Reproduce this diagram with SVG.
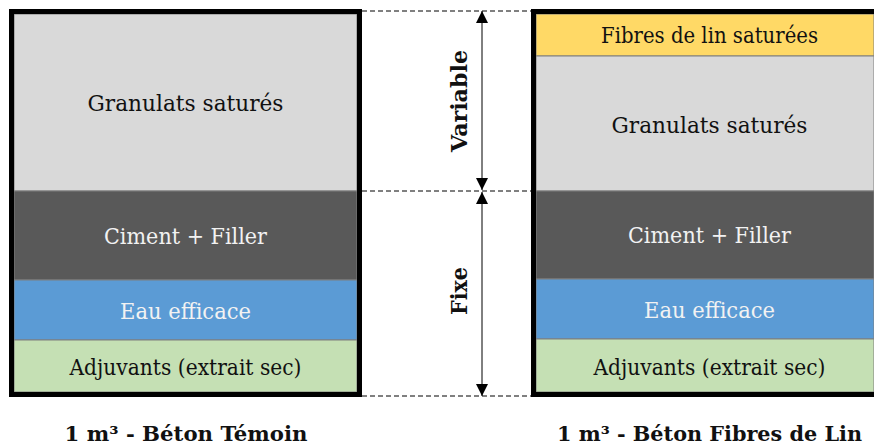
<svg xmlns="http://www.w3.org/2000/svg" width="874" height="448" viewBox="0 0 874 448">
<style>
.lay{stroke:#7f7f7f;stroke-width:1}
.t{font-family:"DejaVu Serif","Liberation Serif",serif;font-size:23px;text-anchor:middle}
.dk{fill:#111}
.wt{fill:#f2f2f2}
.ttl{font-family:"DejaVu Serif","Liberation Serif",serif;font-size:20.8px;font-weight:bold;text-anchor:middle;fill:#111}
.frame{fill:none;stroke:#000;stroke-width:5}
.dash{stroke:#000;stroke-width:1;stroke-dasharray:5,3;fill:none}
.arr{stroke:#000;stroke-width:1;fill:none;marker-start:url(#ah);marker-end:url(#ah)}
.lbl{font-family:"DejaVu Serif","Liberation Serif",serif;font-size:23px;font-weight:bold;text-anchor:middle;fill:#111}
</style>
<defs>
<marker id="ah" markerUnits="userSpaceOnUse" markerWidth="12" markerHeight="12" refX="12" refY="6" orient="auto-start-reverse">
<path d="M0,0 L12,6 L0,12 z" fill="#000"/>
</marker>
</defs>
<rect width="874" height="448" fill="#fff"/>

<g id="temoin">
<rect class="lay" x="14" y="14" width="343" height="177" fill="#d9d9d9"/>
<rect class="lay" x="14" y="191" width="343" height="89" fill="#595959"/>
<rect class="lay" x="14" y="280" width="343" height="60" fill="#5b9bd5"/>
<rect class="lay" x="14" y="340" width="343" height="52" fill="#c5e0b4"/>
<rect class="frame" x="11.5" y="11.5" width="348" height="383"/>
<text class="t dk" x="185.5" y="111" textLength="196" lengthAdjust="spacingAndGlyphs">Granulats saturés</text>
<text class="t wt" x="185.5" y="244" textLength="163" lengthAdjust="spacingAndGlyphs">Ciment + Filler</text>
<text class="t wt" x="185.5" y="319" textLength="131" lengthAdjust="spacingAndGlyphs">Eau efficace</text>
<text class="t dk" x="185.5" y="375" textLength="232" lengthAdjust="spacingAndGlyphs">Adjuvants (extrait sec)</text>
<text class="ttl" x="186" y="441" textLength="243" lengthAdjust="spacingAndGlyphs">1 m³ - Béton Témoin</text>
</g>

<g id="fibres">
<rect class="lay" x="536" y="14" width="338" height="42" fill="#ffd966"/>
<rect class="lay" x="536" y="56" width="338" height="135" fill="#d9d9d9"/>
<rect class="lay" x="536" y="191" width="338" height="88" fill="#595959"/>
<rect class="lay" x="536" y="279" width="338" height="60" fill="#5b9bd5"/>
<rect class="lay" x="536" y="339" width="338" height="53" fill="#c5e0b4"/>
<path class="frame" d="M874,11.5 H533.5 V394.5 H874"/>
<text class="t dk" x="709.5" y="43" textLength="217" lengthAdjust="spacingAndGlyphs">Fibres de lin saturées</text>
<text class="t dk" x="709.5" y="133" textLength="196" lengthAdjust="spacingAndGlyphs">Granulats saturés</text>
<text class="t wt" x="709.5" y="243" textLength="163" lengthAdjust="spacingAndGlyphs">Ciment + Filler</text>
<text class="t wt" x="709.5" y="318" textLength="131" lengthAdjust="spacingAndGlyphs">Eau efficace</text>
<text class="t dk" x="709.5" y="375" textLength="232" lengthAdjust="spacingAndGlyphs">Adjuvants (extrait sec)</text>
<text class="ttl" x="709.5" y="441" textLength="305" lengthAdjust="spacingAndGlyphs">1 m³ - Béton Fibres de Lin</text>
</g>

<g id="connectors">
<line class="dash" x1="362" y1="11" x2="531" y2="11"/>
<line class="dash" x1="362" y1="191" x2="531" y2="191"/>
<line class="dash" x1="362" y1="396" x2="531" y2="396"/>
<line class="arr" x1="482" y1="11" x2="482" y2="190"/>
<line class="arr" x1="482" y1="192" x2="482" y2="396"/>
</g>

<g id="labels">
<text class="lbl" transform="translate(467,101) rotate(-90)" textLength="102" lengthAdjust="spacingAndGlyphs">Variable</text>
<text class="lbl" transform="translate(467,291) rotate(-90)" textLength="48" lengthAdjust="spacingAndGlyphs">Fixe</text>
</g>
</svg>
